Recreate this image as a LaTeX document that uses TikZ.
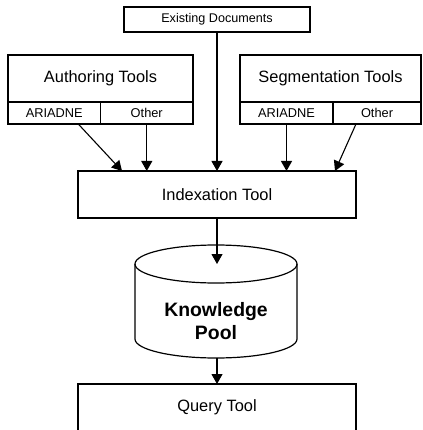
\documentclass[tikz,border=0pt]{standalone}
\usepackage{fontspec}
\setmainfont{Liberation Sans}
\usetikzlibrary{arrows.meta}
\begin{document}
\begin{tikzpicture}[x=1pt,y=-1pt,
  box/.style={draw=black, line width=1.2pt, rectangle, inner sep=0pt, outer sep=0pt},
  arr/.style={line width=1.1pt, -{Triangle[length=10pt,width=11pt]}},
  big/.style={font=\fontsize{16.4}{19}\selectfont},
  small/.style={font=\fontsize{12.8}{15}\selectfont},
  tiny/.style={font=\fontsize{12.6}{15}\selectfont}]
\useasboundingbox (0,0) rectangle (422,430);
% Existing documents
\node[box, tiny, minimum width=186pt, minimum height=25pt] (ed) at (217,19.5) {Existing Documents};
% Authoring tools
\node[box, big, minimum width=185pt, minimum height=47pt] (at) at (100.5,78.5) {Authoring Tools};
\node[box, small, minimum width=92.5pt, minimum height=22pt] (aa) at (54.25,113) {ARIADNE};
\node[box, small, minimum width=92.5pt, minimum height=22pt] (ao) at (146.75,113) {Other};
% Segmentation tools
\node[box, big, minimum width=181pt, minimum height=47pt] (st) at (330.5,78.5) {Segmentation Tools};
\node[box, small, minimum width=93pt, minimum height=22pt] (sa) at (286.5,113) {ARIADNE};
\node[box, small, minimum width=88pt, minimum height=22pt] (so) at (377,113) {Other};
% Indexation
\node[box, big, minimum width=278pt, minimum height=47pt] (ix) at (217,194.5) {Indexation Tool};
% Knowledge pool cylinder
\draw[line width=1.2pt] (135,264) -- (135,339) arc[start angle=180, end angle=360, x radius=81pt, y radius=19pt] -- (297,264);
\draw[line width=1.2pt] (216,264) ellipse[x radius=81pt, y radius=19pt];
\node[align=center, font=\fontsize{19.4}{23}\selectfont\bfseries] (kp) at (216,321) {Knowledge\\Pool};
\coordinate (kptop) at (217,264);
\coordinate (kpbot) at (217,358);
% Query tool
\node[box, big, minimum width=278pt, minimum height=60pt] (qt) at (217,414) {};
\node[big] (qtl) at (217,407) {Query Tool};
% arrows
\draw[arr] (aa.south) ++(24,0) coordinate (aas) -- ([xshift=-95pt]ix.north);
\draw[arr] (ao.south) -- (ao.south |- ix.north);
\draw[arr] (ed.south) -- (ed.south |- ix.north);
\draw[arr] (sa.south) -- (sa.south |- ix.north);
\draw[arr] ([xshift=-21pt]so.south) -- ([xshift=118pt]ix.north);
\draw[arr] (ix.south) -- (kptop);
\draw[arr] (kpbot) -- (qt.north);
\end{tikzpicture}
\end{document}
